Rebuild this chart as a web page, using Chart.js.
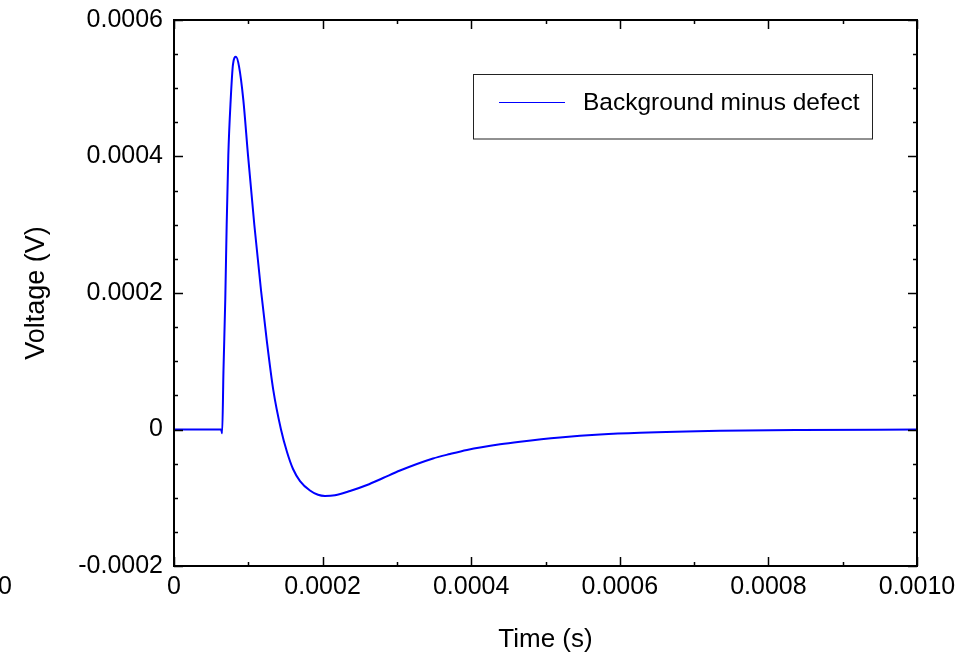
<!DOCTYPE html>
<html>
<head>
<meta charset="utf-8">
<script src="https://cdn.jsdelivr.net/npm/chart.js@4.4.1/dist/chart.umd.min.js"></script>
<style>
  html, body { margin: 0; padding: 0; background: #fff; }
  #plot { display: block; }
</style>
</head>
<body>
<canvas id="plot" width="963" height="657"></canvas>
<script>
// 時間 (s) と電圧 (V)
const timeValues = [
    0, 0.0000633, 0.0000648, 0.0000666, 0.0000690, 0.0000709, 0.0000731,
    0.0000763, 0.0000794, 0.0000834, 0.0000875, 0.0000933, 0.0000996,
    0.0001081, 0.0001171, 0.0001248, 0.0001336, 0.0001440, 0.0001521,
    0.0001602, 0.0001696, 0.0001830, 0.0001938, 0.0002032, 0.0002167,
    0.0002369, 0.0002598, 0.0002813, 0.0003042, 0.0003486, 0.0003715,
    0.0003943, 0.0004388, 0.0004657, 0.0005195, 0.0005733, 0.0006272,
    0.0007349, 0.0008425, 0.0010000
];
const voltageValues = [
    0, 0, -0.0000055, 0.000087, 0.000190, 0.000300, 0.000402,
    0.000483, 0.000535, 0.000546, 0.000532, 0.000483, 0.000402,
    0.000300, 0.000204, 0.000131, 0.000058, 0, -0.0000330,
    -0.0000579, -0.0000755, -0.0000894, -0.0000957, -0.0000974, -0.0000963,
    -0.0000901, -0.0000813, -0.0000711, -0.0000601, -0.0000425, -0.0000359,
    -0.0000300, -0.0000217, -0.0000179, -0.0000117, -0.0000073, -0.0000047,
    -0.0000019, -0.0000007, 0
];

// 目盛り
const xTickValues = [0, 0.0002, 0.0004, 0.0006, 0.0008, 0.001];
const xTickLabels = ['0', '0.0002', '0.0004', '0.0006', '0.0008', '0.0010'];
const yTickValues = [-0.0002, 0, 0.0002, 0.0004, 0.0006];
const yTickLabels = ['-0.0002', '0', '0.0002', '0.0004', '0.0006'];
const xMinorStep = 0.0001;
const yMinorStep = 0.00005;

const seriesLabel = 'Background minus defect';
const FONT = '"Liberation Sans", Arial, sans-serif';

/**
 * 枠・内向き目盛り・凡例を描画
 */
const framePlugin = {
    id: 'frameAndTicks',
    afterDraw(chart) {
        const ctx = chart.ctx;
        const area = chart.chartArea;
        const xs = chart.scales.x;
        const ys = chart.scales.y;

        ctx.save();
        ctx.strokeStyle = '#000';

        const line = (x1, y1, x2, y2) => {
            ctx.beginPath();
            ctx.moveTo(x1, y1);
            ctx.lineTo(x2, y2);
            ctx.stroke();
        };

        // 目盛り（上下左右、内向き）
        ctx.lineWidth = 1.5;
        for (let v = 0; v <= 0.001 + 1e-12; v += xMinorStep) {
            const x = Math.round(xs.getPixelForValue(v)) + 0.5;
            const isMajor = xTickValues.some(t => Math.abs(t - v) < 1e-9);
            const len = isMajor ? 9 : 4;
            line(x, area.bottom, x, area.bottom - len);
            line(x, area.top, x, area.top + len);
        }
        for (let v = -0.0002; v <= 0.0006 + 1e-12; v += yMinorStep) {
            const y = Math.round(ys.getPixelForValue(v)) + 0.5;
            const isMajor = yTickValues.some(t => Math.abs(t - v) < 1e-9);
            const len = isMajor ? 9 : 4;
            line(area.left, y, area.left + len, y);
            line(area.right, y, area.right - len, y);
        }

        // 枠
        ctx.lineWidth = 2;
        ctx.strokeRect(area.left, area.top, area.right - area.left, area.bottom - area.top);

        // 凡例
        const ds = chart.data.datasets[0];
        ctx.lineWidth = 1;
        ctx.strokeStyle = '#222';
        ctx.strokeRect(473.5, 74.5, 399, 64.5);
        ctx.strokeStyle = ds.borderColor;
        ctx.lineWidth = 1.2;
        line(499, 102.5, 565, 102.5);
        ctx.fillStyle = '#000';
        ctx.font = '24.5px ' + FONT;
        ctx.textAlign = 'left';
        ctx.textBaseline = 'middle';
        ctx.fillText(ds.label, 583, 103);

        // 左端で切れたラベル
        ctx.font = '25px ' + FONT;
        ctx.textAlign = 'center';
        ctx.fillText('0', 5, 587);
        ctx.restore();
    }
};

const canvas = document.getElementById('plot');
const chart = new Chart(canvas, {
    type: 'line',
    data: {
        datasets: [{
            label: seriesLabel,
            data: timeValues.map((t, i) => ({ x: t, y: voltageValues[i] })),
            borderColor: '#0000ff',
            borderWidth: 2,
            pointRadius: 0,
            fill: false,
            cubicInterpolationMode: 'monotone'
        }]
    },
    options: {
        responsive: false,
        animation: false,
        devicePixelRatio: 1,
        layout: {
            padding: { top: 20, right: 46, left: 0, bottom: 0 }
        },
        plugins: {
            legend: { display: false },
            tooltip: { enabled: false }
        },
        scales: {
            x: {
                type: 'linear',
                min: 0,
                max: 0.001,
                afterBuildTicks: (scale) => {
                    scale.ticks = xTickValues.map(v => ({ value: v }));
                },
                afterFit: (scale) => {
                    scale.height = 91;
                    scale.paddingLeft = 0;
                    scale.paddingRight = 0;
                },
                grid: { display: false, drawTicks: false },
                border: { display: false },
                ticks: {
                    padding: 6,
                    color: '#000',
                    maxRotation: 0,
                    font: { family: FONT, size: 25 },
                    callback: (value, index) => xTickLabels[index]
                },
                title: {
                    display: true,
                    text: 'Time (s)',
                    color: '#000',
                    font: { family: FONT, size: 26 },
                    padding: { top: 0, bottom: 1.5 }
                }
            },
            y: {
                type: 'linear',
                min: -0.0002,
                max: 0.0006,
                afterBuildTicks: (scale) => {
                    scale.ticks = yTickValues.map(v => ({ value: v }));
                },
                afterFit: (scale) => {
                    scale.width = 174;
                    scale.paddingTop = 0;
                    scale.paddingBottom = 0;
                },
                grid: { display: false, drawTicks: false },
                border: { display: false },
                ticks: {
                    padding: 11,
                    color: '#000',
                    font: { family: FONT, size: 25 },
                    callback: (value, index) => yTickLabels[index]
                },
                title: {
                    display: true,
                    text: 'Voltage (V)',
                    color: '#000',
                    font: { family: FONT, size: 27 },
                    padding: { top: 20.5, bottom: 0 }
                }
            }
        }
    },
    plugins: [framePlugin]
});
</script>
</body>
</html>
